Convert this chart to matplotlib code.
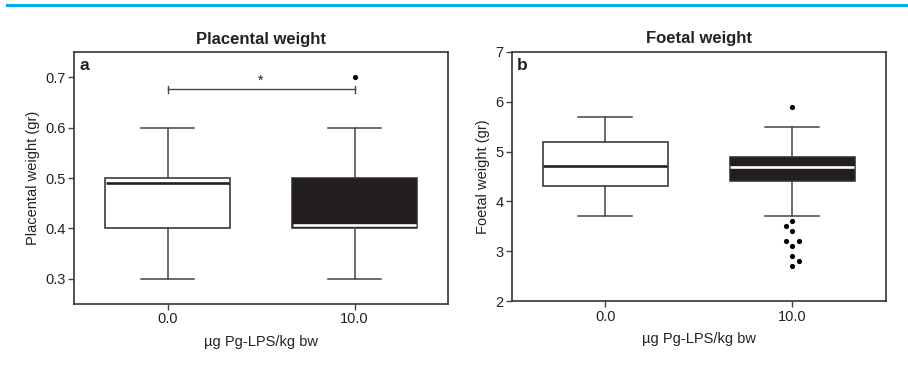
import matplotlib
matplotlib.use("Agg")
import matplotlib.pyplot as plt
from matplotlib.lines import Line2D

plt.rcParams['font.family'] = ['Liberation Sans', 'DejaVu Sans']

# Dose groups
groups = ["0.0", "10.0"]
xlabel = "\u00b5g Pg-LPS/kg bw"

# Placental weight (gr): box summaries per group
plac_q1 = [0.40, 0.40]
plac_med = [0.491, 0.406]
plac_q3 = [0.50, 0.50]
plac_lo = [0.30, 0.30]
plac_hi = [0.60, 0.60]
plac_out = [[], [0.70]]

# Foetal weight (gr): box summaries per group
foet_q1 = [4.3, 4.4]
foet_med = [4.72, 4.70]
foet_q3 = [5.2, 4.9]
foet_lo = [3.7, 3.7]
foet_hi = [5.7, 5.5]
foet_out = [[], [5.9, 3.6, 3.5, 3.4, 3.2, 3.2, 3.1, 2.9, 2.8, 2.7]]
# sideways spread of coinciding outliers (in group units)
foet_out_dx = [[], [0, 0, -0.034, 0, -0.034, 0.034, 0, 0, 0.034, 0]]

EDGE = "#2b2b2b"
DARK = "#231f20"
W, H = 908, 369
fig = plt.figure(figsize=(W / 100, H / 100), dpi=100)

# blue rule along the top
fig.add_artist(Line2D([7 / W, 1.0], [1 - 5 / H, 1 - 5 / H], color="#00aeef", lw=2.2))

FS = 10.5


def panel(rect, q1, med, q3, lo, hi, outs, dxs, ylim, yticks, ytl, ylabel, title, letter):
    ax = fig.add_axes(rect)
    stats = []
    for i in range(len(groups)):
        stats.append(dict(q1=q1[i], med=med[i], q3=q3[i], whislo=lo[i], whishi=hi[i], fliers=[]))
    bp = ax.bxp(stats, positions=range(len(groups)), widths=0.67, patch_artist=True,
                showfliers=False, showcaps=True,
                boxprops=dict(edgecolor=EDGE, linewidth=1.1),
                whiskerprops=dict(color="#444444", linewidth=1.1),
                capprops=dict(color="#444444", linewidth=1.1),
                medianprops=dict(linewidth=1.9))
    for c in bp['caps']:
        xd = c.get_xdata()
        m = (xd[0] + xd[1]) / 2
        c.set_xdata([m - 0.143, m + 0.143])
    fills = ["white", DARK]
    mcols = [DARK, "white"]
    for b, f in zip(bp['boxes'], fills):
        b.set_facecolor(f)
    for mline, mc in zip(bp['medians'], mcols):
        mline.set_color(mc)
        xd = mline.get_xdata()
        mline.set_xdata([xd[0] + 0.004, xd[1] - 0.004])
    for i, (vals, dx) in enumerate(zip(outs, dxs)):
        if vals:
            xs = [i + (dx[k] if dx else 0) for k in range(len(vals))]
            ax.scatter(xs, vals, s=14, color="black", zorder=5, linewidths=0)
    ax.set_xlim(-0.5, 1.5)
    ax.set_ylim(*ylim)
    ax.set_xticks(range(len(groups)))
    ax.set_xticklabels(groups, fontsize=FS, color="#222222")
    ax.set_yticks(yticks)
    ax.set_yticklabels(ytl, fontsize=FS, color="#222222")
    ax.tick_params(direction="out", length=4, width=1.0, color="#444444", pad=2)
    for s in ax.spines.values():
        s.set_color("#333333")
        s.set_linewidth(1.2)
    ax.set_xlabel(xlabel, fontsize=FS, color="#222222", labelpad=6)
    ax.set_ylabel(ylabel, fontsize=FS, color="#222222", labelpad=4)
    ax.set_title(title, fontsize=12, fontweight="bold", color="#222222", pad=6)
    ax.text(0.015, 0.975, letter, transform=ax.transAxes, fontsize=12.5, fontweight="bold",
            va="top", ha="left", color="#222222")
    return ax


ax_a = panel([74 / W, 1 - 304 / H, 374 / W, 252 / H], plac_q1, plac_med, plac_q3, plac_lo, plac_hi,
             plac_out, [[], [0]], (0.25, 0.75), [0.3, 0.4, 0.5, 0.6, 0.7],
             ["0.3", "0.4", "0.5", "0.6", "0.7"], "Placental weight (gr)", "Placental weight", "a")

# significance bracket between the groups
sig_y = 0.676
ax_a.plot([0, 1], [sig_y, sig_y], color="#444444", lw=1.0)
for xe in (0, 1):
    ax_a.plot([xe, xe], [sig_y - 0.007, sig_y + 0.006], color="#444444", lw=1.0)
ax_a.text(0.5, sig_y + 0.003, "*", ha="center", va="bottom", fontsize=10, color="#222222")

panel([511.7 / W, 1 - 301.3 / H, 374 / W, 249.6 / H], foet_q1, foet_med, foet_q3, foet_lo, foet_hi,
      foet_out, foet_out_dx, (2, 7), [2, 3, 4, 5, 6, 7], ["2", "3", "4", "5", "6", "7"],
      "Foetal weight (gr)", "Foetal weight", "b")

fig.savefig("out.png", dpi=100)
